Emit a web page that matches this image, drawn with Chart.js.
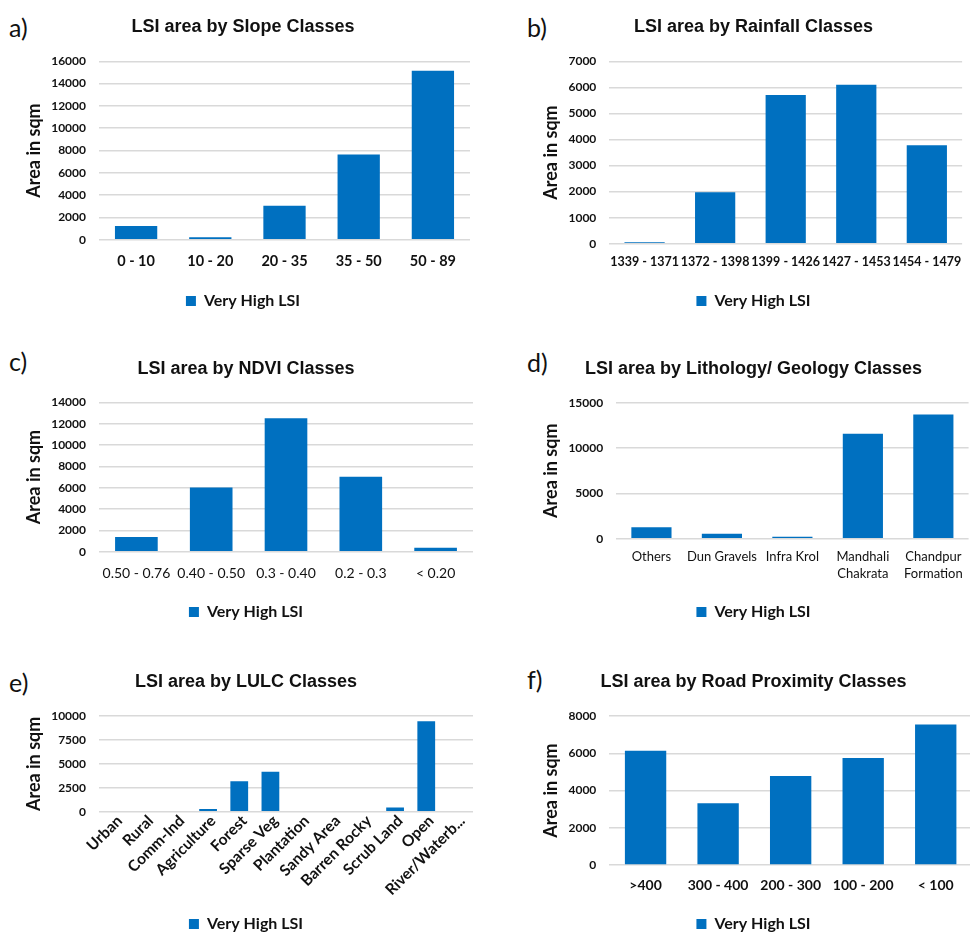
<!DOCTYPE html>
<html><head><meta charset="utf-8">
<script src="https://cdn.jsdelivr.net/npm/chart.js@4.4.0/dist/chart.umd.min.js"></script>
<style>
html,body{margin:0;padding:0;background:#fff;width:970px;height:932px;overflow:hidden;position:relative}
canvas{position:absolute}
.lab{position:absolute;font-family:Lato,'Open Sans',sans-serif;font-size:25px;line-height:25px;color:#111}
</style></head><body>
<div class="lab" style="left:9px;top:15px">a)</div>
<div class="lab" style="left:527px;top:15px">b)</div>
<div class="lab" style="left:9px;top:349px">c)</div>
<div class="lab" style="left:527px;top:350px">d)</div>
<div class="lab" style="left:9px;top:670px">e)</div>
<div class="lab" style="left:527px;top:667px">f)</div>
<canvas id="ca"></canvas><canvas id="cb"></canvas><canvas id="cc"></canvas>
<canvas id="cd"></canvas><canvas id="ce"></canvas><canvas id="cf"></canvas>
<script>
// ---- data ----
const seriesName = 'Very High LSI';

const slopeClasses = ['0 - 10', '10 - 20', '20 - 35', '35 - 50', '50 - 89'];
const slopeArea = [1230, 210, 3050, 7650, 15150];
const slopeTicks = [0, 2000, 4000, 6000, 8000, 10000, 12000, 14000, 16000];

const rainClasses = ['1339 - 1371', '1372 - 1398', '1399 - 1426', '1427 - 1453', '1454 - 1479'];
const rainArea = [60, 1970, 5710, 6100, 3780];
const rainTicks = [0, 1000, 2000, 3000, 4000, 5000, 6000, 7000];

const ndviClasses = ['0.50 - 0.76', '0.40 - 0.50', '0.3 - 0.40', '0.2 - 0.3', '< 0.20'];
const ndviArea = [1380, 6020, 12500, 7030, 380];
const ndviTicks = [0, 2000, 4000, 6000, 8000, 10000, 12000, 14000];

const lithoClasses = ['Others', 'Dun Gravels', 'Infra Krol', ['Mandhali', 'Chakrata'], ['Chandpur', 'Formation']];
const lithoArea = [1250, 550, 220, 11580, 13710];
const lithoTicks = [0, 5000, 10000, 15000];

const lulcClasses = ['Urban', 'Rural', 'Comm-Ind', 'Agriculture', 'Forest', 'Sparse Veg', 'Plantation', 'Sandy Area', 'Barren Rocky', 'Scrub Land', 'Open', 'River/Waterb...'];
const lulcArea = [0, 0, 0, 280, 3170, 4180, 0, 0, 0, 450, 9440, 0];
const lulcTicks = [0, 2500, 5000, 7500, 10000];

const roadClasses = ['>400', '300 - 400', '200 - 300', '100 - 200', '< 100'];
const roadArea = [6140, 3310, 4780, 5750, 7540];
const roadTicks = [0, 2000, 4000, 6000, 8000];

const titles = {
  a: 'LSI area by Slope Classes',
  b: 'LSI area by Rainfall Classes',
  c: 'LSI area by NDVI Classes',
  d: 'LSI area by Lithology/ Geology Classes',
  e: 'LSI area by LULC Classes',
  f: 'LSI area by Road Proximity Classes'
};

// ---- chart builder ----
const BLUE = '#0070C0';
const TXT = '#111111';
const LEG = 16;
function makeChart(id, g, labels, values, yTicks, title) {
  const height = Math.round(g.legendY + 10 + LEG / 2 - g.top);
  const cv = document.getElementById(id);
  cv.width = g.width; cv.height = height;
  cv.style.left = g.left + 'px'; cv.style.top = g.top + 'px';
  const tPadTop = g.titleY - g.top - 10.8;
  const tPadBottom = g.plotTop - g.top - tPadTop - 21.6;
  const legendTop = g.top + height - (LEG + 20);
  const xHeight = legendTop - g.plotBottom;
  const yWidth = g.plotLeft - g.left;
  const rightPad = g.left + g.width - g.plotRight;
  const lh = g.xLH || 1.2;
  const xPad = g.rot ? g.xPad : (g.xLabelY - g.plotBottom - g.xFont * lh / 2);
  return new Chart(cv, {
    type: 'bar',
    data: { labels: labels, datasets: [{ label: seriesName, data: values, backgroundColor: BLUE, borderWidth: 0, categoryPercentage: 1, barPercentage: 0.57 }] },
    options: {
      responsive: false, animation: false, devicePixelRatio: 1,
      layout: { padding: { left: 0, right: rightPad, top: 0, bottom: 0 } },
      plugins: {
        title: { display: true, text: title, color: TXT, font: { family: "'Liberation Sans', Arial, sans-serif", size: 18, weight: 'bold' }, padding: { top: tPadTop, bottom: tPadBottom } },
        legend: { position: 'bottom', labels: { color: TXT, font: { family: 'Lato', size: LEG, weight: 'bold' }, boxWidth: 10, boxHeight: 10, padding: 10 } },
        tooltip: { enabled: false }
      },
      scales: {
        x: {
          grid: { display: false, drawTicks: false }, border: { display: false },
          ticks: { color: TXT, autoSkip: false, maxRotation: g.rot || 0, minRotation: g.rot || 0, padding: xPad, labelOffset: g.xOff || 0,
            font: { family: 'Lato', size: g.xFont, weight: g.xWeight, lineHeight: lh } },
          afterFit: (s) => { s.height = xHeight; }
        },
        y: {
          min: 0, max: yTicks[yTicks.length - 1],
          grid: { color: '#d9d9d9', lineWidth: 1.5, drawTicks: false }, border: { display: false },
          ticks: { color: TXT, padding: 13, font: { family: 'Lato', size: 12, weight: 'bold' }, callback: (v) => String(v) },
          afterBuildTicks: (s) => { s.ticks = yTicks.map(v => ({ value: v })); },
          title: { display: true, text: 'Area in sqm', color: TXT, font: { family: 'Lato', size: 18, weight: 'bold' }, padding: { top: g.yTitleX - g.left - 10.8, bottom: 0 } },
          afterFit: (s) => { s.width = yWidth; }
        }
      }
    }
  });
}

makeChart('ca', { left: 16, top: 0, width: 469, titleY: 27, plotTop: 61.3, plotBottom: 239.7, plotLeft: 99, plotRight: 470, legendY: 300.5, yTitleX: 34.5, xLabelY: 261, xFont: 14.5, xWeight: 'bold' }, slopeClasses, slopeArea, slopeTicks, titles.a);
makeChart('cb', { left: 535, top: 0, width: 437, titleY: 27, plotTop: 61.3, plotBottom: 243.7, plotLeft: 609.3, plotRight: 972, legendY: 300.5, yTitleX: 551, xLabelY: 262, xFont: 12.5, xWeight: 'bold' }, rainClasses, rainArea, rainTicks, titles.b);
makeChart('cc', { left: 19, top: 310, width: 471, titleY: 369, plotTop: 402.3, plotBottom: 551.7, plotLeft: 99, plotRight: 473, legendY: 612, yTitleX: 34.5, xLabelY: 573, xFont: 14, xWeight: 'normal' }, ndviClasses, ndviArea, ndviTicks, titles.c);
makeChart('cd', { left: 535, top: 310, width: 437, titleY: 369, plotTop: 402.7, plotBottom: 538.7, plotLeft: 616.2, plotRight: 972, legendY: 612, yTitleX: 551, xLabelY: 556.7, xFont: 13, xWeight: 'normal', xLH: 1.33 }, lithoClasses, lithoArea, lithoTicks, titles.d);
makeChart('ce', { left: 19, top: 620, width: 471, titleY: 681.7, plotTop: 716, plotBottom: 811.7, plotLeft: 99, plotRight: 473, legendY: 924, yTitleX: 34.5, rot: 45, xPad: 0, xOff: 5, xFont: 15.5, xWeight: 'bold' }, lulcClasses, lulcArea, lulcTicks, titles.e);
makeChart('cf', { left: 535, top: 620, width: 437, titleY: 681.7, plotTop: 716, plotBottom: 865, plotLeft: 609.3, plotRight: 972, legendY: 924, yTitleX: 551, xLabelY: 885.7, xFont: 14, xWeight: 'bold' }, roadClasses, roadArea, roadTicks, titles.f);
</script>
</body></html>
